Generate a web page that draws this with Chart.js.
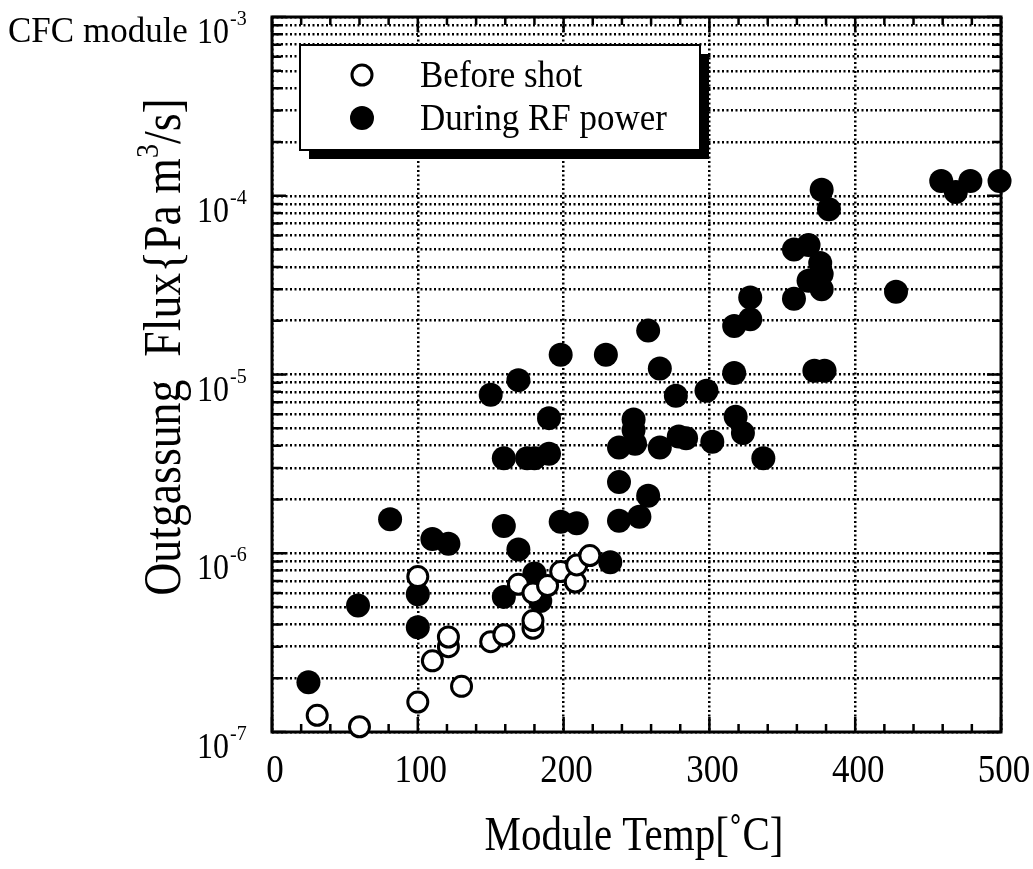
<!DOCTYPE html>
<html>
<head>
<meta charset="utf-8">
<script src="https://cdn.jsdelivr.net/npm/chart.js@4.4.1/dist/chart.umd.min.js"></script>
<style>
  html, body { margin: 0; padding: 0; background: #fff; }
  #wrap { width: 1033px; height: 869px; }
</style>
</head>
<body>
<div id="wrap"><canvas id="myChart" width="1033" height="869"></canvas></div>
<script>
// data (temperature in C, flux in Pa m3/s)
var seriesLabels = ['Before shot', 'During RF power'];

var beforeTemp = [31, 60, 100, 100, 110, 121, 121, 130, 150, 159, 169, 179, 179, 179, 189, 198, 208, 209, 218];
var beforeFlux = [1.24e-7, 1.07e-7, 1.47e-7, 7.4e-7, 2.5e-7, 3.0e-7, 3.4e-7, 1.8e-7, 3.2e-7, 3.5e-7,
                  6.7e-7, 3.8e-7, 4.2e-7, 6.0e-7, 6.6e-7, 7.9e-7, 6.9e-7, 8.6e-7, 9.7e-7];

var rfTemp = [25, 59, 81, 100, 100, 110, 121, 150, 159, 159, 159, 169, 169, 175, 180, 180, 184, 190, 190,
              198, 198, 209, 229, 232, 238, 238, 238, 248, 248, 249, 252, 258, 258, 266, 266, 277, 279, 284,
              298, 302, 317, 317, 318, 323, 328, 328, 337, 358, 358, 368, 368, 376, 377, 377, 372, 379,
              377, 382, 428, 459, 469, 479, 499];
var rfFlux = [1.9e-7, 5.1e-7, 1.55e-6, 5.9e-7, 3.85e-7, 1.2e-6, 1.13e-6, 7.7e-6, 3.4e-6, 1.42e-6, 5.7e-7,
              9.3e-6, 1.05e-6, 3.4e-6, 3.4e-6, 7.7e-7, 5.4e-7, 5.7e-6, 3.6e-6,
              1.29e-5, 1.5e-6, 1.47e-6, 1.29e-5, 8.9e-7, 3.9e-6, 2.5e-6, 1.52e-6, 5.6e-6, 4.9e-6, 4.1e-6,
              1.6e-6, 1.76e-5, 2.1e-6, 1.08e-5, 3.9e-6, 7.6e-6, 4.5e-6, 4.4e-6,
              8.1e-6, 4.2e-6, 1.87e-5, 1.02e-5, 5.8e-6, 4.7e-6, 2.7e-5, 2.04e-5, 3.4e-6, 5.0e-5, 2.65e-5,
              5.3e-5, 3.35e-5, 4.2e-5, 3.65e-5, 3.0e-5, 1.05e-5, 1.05e-5,
              1.08e-4, 8.4e-5, 2.9e-5, 1.21e-4, 1.05e-4, 1.21e-4, 1.21e-4];

var xTickLabels = [0, 100, 200, 300, 400, 500];
var xMinorStep = 20;
var yDecades = [-7, -6, -5, -4, -3];

var serif = '"Liberation Serif", "Times New Roman", serif';

function toPoints(xs, ys) {
    var pts = [];
    for (let i = 0; i < xs.length; i++) {
        pts.push({x: xs[i], y: ys[i]});
    }
    return pts;
}

// 1..9 x 10^n for every decade, used for the dotted grid
function logTicks() {
    var out = [];
    for (let d = 0; d < yDecades.length; d++) {
        var base = Math.pow(10, yDecades[d]);
        var last = d === yDecades.length - 1 ? 1 : 9;
        for (let k = 1; k <= last; k++) {
            out.push({value: parseFloat((k * base).toPrecision(3)), major: k === 1});
        }
    }
    return out;
}

function stretchText(ctx, txt, x, y, size, sy, align) {
    ctx.save();
    ctx.font = size + 'px ' + serif;
    ctx.textAlign = align || 'left';
    ctx.textBaseline = 'alphabetic';
    ctx.fillStyle = '#000';
    ctx.translate(x, y);
    ctx.scale(1, sy);
    ctx.fillText(txt, 0, 0);
    ctx.restore();
}

var framePlugin = {
    id: 'frame',
    beforeDatasetsDraw: function (chart) {
        var ctx = chart.ctx;
        var a = chart.chartArea;
        var xs = chart.scales.x, ys = chart.scales.y;
        ctx.save();
        ctx.strokeStyle = '#000';
        ctx.lineWidth = 2.5;
        ctx.beginPath();
        // x ticks, inward on bottom and top
        for (let v = xTickLabels[0]; v <= xTickLabels[xTickLabels.length - 1]; v += xMinorStep) {
            var px = xs.getPixelForValue(v);
            var len = v % 100 === 0 ? 15 : 8;
            ctx.moveTo(px, a.bottom); ctx.lineTo(px, a.bottom - len);
            ctx.moveTo(px, a.top); ctx.lineTo(px, a.top + len);
        }
        // y ticks, inward on left and right
        ys.ticks.forEach(function (t) {
            var py = ys.getPixelForValue(t.value);
            var len = t.major ? 14 : 9;
            ctx.moveTo(a.left, py); ctx.lineTo(a.left + len, py);
            ctx.moveTo(a.right, py); ctx.lineTo(a.right - len, py);
        });
        ctx.stroke();
        ctx.lineWidth = 3;
        ctx.strokeRect(a.left, a.top, a.right - a.left, a.bottom - a.top);
        ctx.restore();
    },
    afterDraw: function (chart) {
        var ctx = chart.ctx;
        var xs = chart.scales.x, ys = chart.scales.y;

        // x tick labels
        xTickLabels.forEach(function (v) {
            stretchText(ctx, String(v), xs.getPixelForValue(v) + 3, 782, 35, 1.15, 'center');
        });
        // y tick labels 10^n
        yDecades.forEach(function (e) {
            var py = ys.getPixelForValue(Math.pow(10, e));
            stretchText(ctx, '10', 229, py + 26, 32, 1.15, 'right');
            stretchText(ctx, '-' + Math.abs(e), 230, py + 8, 20, 1.0, 'left');
        });

        stretchText(ctx, 'CFC module', 8, 42, 35, 1.05, 'left');

        // axis titles
        stretchText(ctx, 'Module Temp[\u02DAC]', 634, 850, 41, 1.2, 'center');

        ctx.save();
        ctx.translate(180, 347);
        ctx.rotate(-Math.PI / 2);
        ctx.scale(1.04, 1.2);
        ctx.fillStyle = '#000';
        ctx.textBaseline = 'alphabetic';
        var partA = 'Outgassung  Flux{Pa m';
        var partB = '/s]';
        ctx.font = '44px ' + serif;
        var wA = ctx.measureText(partA).width;
        var wB = ctx.measureText(partB).width;
        ctx.font = '27px ' + serif;
        var wS = ctx.measureText('3').width;
        var x0 = -(wA + wS + wB) / 2;
        ctx.font = '44px ' + serif;
        ctx.fillText(partA, x0, 0);
        ctx.fillText(partB, x0 + wA + wS, 0);
        ctx.font = '27px ' + serif;
        ctx.fillText('3', x0 + wA, -18);
        ctx.restore();

        // legend box with drop shadow
        var bx = 300, by = 45, bw = 400, bh = 105, sh = 9;
        ctx.save();
        ctx.fillStyle = '#000';
        ctx.fillRect(bx + sh, by + sh, bw, bh);
        ctx.fillStyle = '#fff';
        ctx.fillRect(bx, by, bw, bh);
        ctx.strokeStyle = '#000';
        ctx.lineWidth = 2;
        ctx.strokeRect(bx, by, bw, bh);
        chart.data.datasets.forEach(function (ds, i) {
            var cy = by + 30 + i * 43;
            ctx.beginPath();
            ctx.arc(362, cy, ds.pointRadius, 0, Math.PI * 2);
            ctx.fillStyle = ds.pointBackgroundColor;
            ctx.fill();
            ctx.lineWidth = ds.pointBorderWidth;
            ctx.strokeStyle = ds.pointBorderColor;
            if (ds.pointBorderWidth) ctx.stroke();
            stretchText(ctx, ds.label, 420, cy + 12, 35, 1.1, 'left');
        });
        ctx.restore();
    }
};

var ctx = document.getElementById('myChart').getContext('2d');

var chart = new Chart(ctx, {
    type: 'scatter',
    data: {
        datasets: [{
            label: seriesLabels[0],
            data: toPoints(beforeTemp, beforeFlux),
            pointRadius: 10,
            pointBorderWidth: 3,
            pointBackgroundColor: '#fff',
            pointBorderColor: '#000',
            clip: false
        }, {
            label: seriesLabels[1],
            data: toPoints(rfTemp, rfFlux),
            pointRadius: 12,
            pointBorderWidth: 0,
            pointBackgroundColor: '#000',
            pointBorderColor: '#000',
            clip: false
        }]
    },
    options: {
        responsive: false,
        animation: false,
        events: [],
        layout: { padding: { left: 0, top: 17, right: 32, bottom: 0 } },
        plugins: {
            legend: { display: false },
            tooltip: { enabled: false }
        },
        scales: {
            x: {
                type: 'linear',
                min: 0,
                max: 500,
                ticks: { stepSize: 100, display: false },
                grid: { color: '#000', lineWidth: 2.5, drawTicks: false },
                border: { display: false, dash: [2, 2.5] },
                afterFit: function (scale) { scale.height = 137; }
            },
            y: {
                type: 'logarithmic',
                min: 1e-7,
                max: 1e-3,
                ticks: { display: false, autoSkip: false },
                grid: { color: '#000', lineWidth: 2.5, drawTicks: false },
                border: { display: false, dash: [2, 2.5] },
                afterBuildTicks: function (scale) { scale.ticks = logTicks(); },
                afterFit: function (scale) { scale.width = 272; }
            }
        }
    },
    plugins: [framePlugin]
});
</script>
</body>
</html>
